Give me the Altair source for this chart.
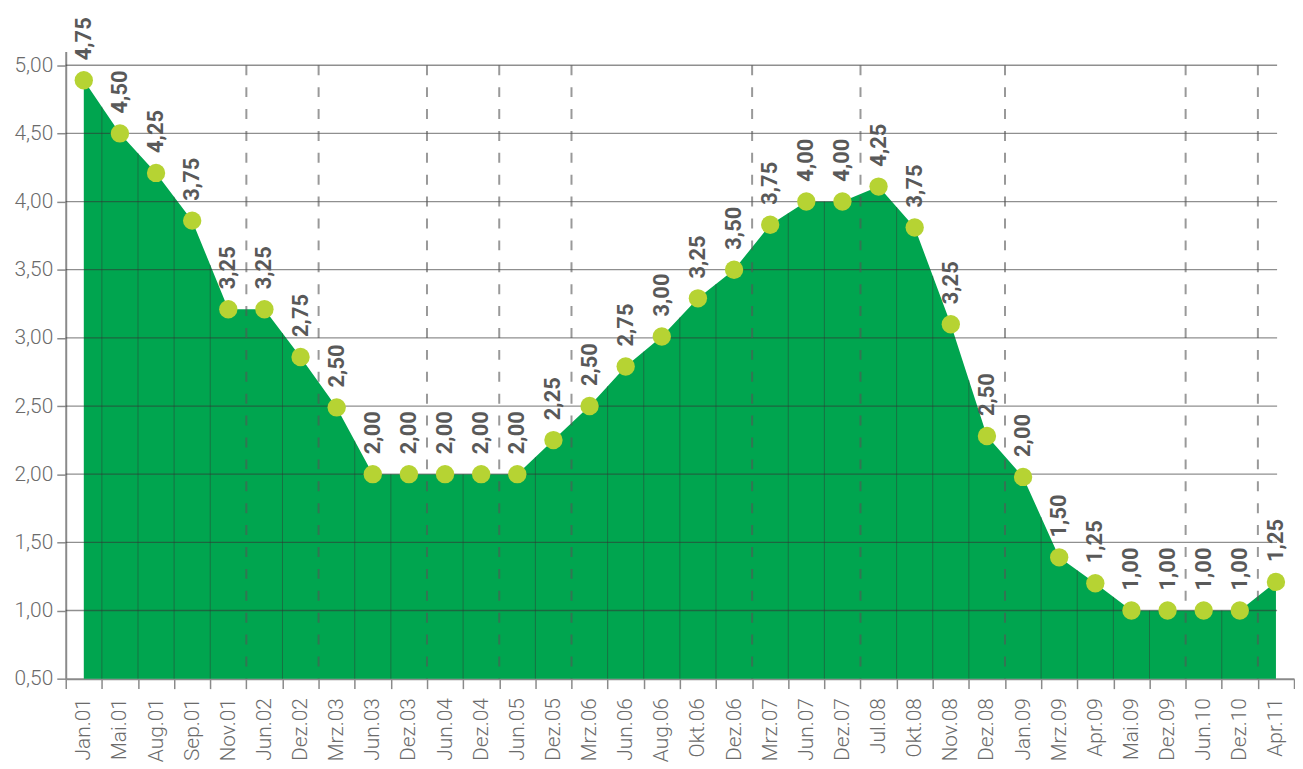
import altair as alt
import pandas as pd

categories = ["Jan.01", "Mai.01", "Aug.01", "Sep.01", "Nov.01", "Jun.02", "Dez.02", "Mrz.03",
              "Jun.03", "Dez.03", "Jun.04", "Dez.04", "Jun.05", "Dez.05", "Mrz.06", "Jun.06",
              "Aug.06", "Okt.06", "Dez.06", "Mrz.07", "Jun.07", "Dez.07", "Jul.08", "Okt.08",
              "Nov.08", "Dez.08", "Jan.09", "Mrz.09", "Apr.09", "Mai.09", "Dez.09", "Jun.10",
              "Dez.10", "Apr.11"]
values = [4.89, 4.50, 4.21, 3.86, 3.21, 3.21, 2.86, 2.49,
          2.00, 2.00, 2.00, 2.00, 2.00, 2.25, 2.50, 2.79,
          3.01, 3.29, 3.50, 3.83, 4.00, 4.00, 4.11, 3.81,
          3.10, 2.28, 1.98, 1.39, 1.20, 1.00, 1.00, 1.00,
          1.00, 1.21]
labels = ["4,75", "4,50", "4,25", "3,75", "3,25", "3,25", "2,75", "2,50",
          "2,00", "2,00", "2,00", "2,00", "2,00", "2,25", "2,50", "2,75",
          "3,00", "3,25", "3,50", "3,75", "4,00", "4,00", "4,25", "3,75",
          "3,25", "2,50", "2,00", "1,50", "1,25", "1,00", "1,00", "1,00",
          "1,00", "1,25"]
y_ticks = [0.5, 1.0, 1.5, 2.0, 2.5, 3.0, 3.5, 4.0, 4.5, 5.0]

GREEN = "#00a54f"
POINT = "#b6d333"
AXIS_GRAY = "#8a8a8a"
LABEL_GRAY = "#6b6b6b"
VALUE_GRAY = "#595959"
FONT = "Roboto"

years = [c.split(".")[1] for c in categories]
df = pd.DataFrame({"cat": categories, "value": values, "label": labels})

year_rows = []
inner_rows = []
for i in range(1, len(categories)):
    if years[i] != years[i - 1]:
        year_rows.append({"cat": categories[i]})
    else:
        inner_rows.append({"cat": categories[i], "top": (values[i - 1] + values[i]) / 2})
df_year = pd.DataFrame(year_rows)
df_inner = pd.DataFrame(inner_rows)
df_grid = pd.DataFrame({"v": y_ticks[1:]})

W = 1234
H = 630

x_scale = alt.Scale(type="band", domain=categories, paddingInner=0, paddingOuter=0)
y_scale = alt.Scale(domain=[0.5, 5.1], nice=False, zero=False)

x_axis = alt.Axis(title=None, tickBand="extent", labelAngle=270, labelAlign="right",
                  labelBaseline="middle", labelFont=FONT, labelFontSize=21, labelFontWeight=300,
                  labelColor=LABEL_GRAY,
                  labelPadding=9, tickSize=10, tickColor=AXIS_GRAY, tickWidth=1.5,
                  domainColor=AXIS_GRAY, domainWidth=2, grid=False)
y_axis = alt.Axis(title=None, values=y_ticks,
                  labelExpr="replace(format(datum.value, '.2f'), '.', ',')",
                  labelFont=FONT, labelFontSize=21, labelFontWeight=300, labelColor=LABEL_GRAY,
                  labelPadding=4,
                  tickSize=9, tickColor=AXIS_GRAY, tickWidth=1.5,
                  domainColor=AXIS_GRAY, domainWidth=2, grid=False)


def X(band_pos):
    return alt.X("cat:N", scale=x_scale, axis=x_axis, bandPosition=band_pos, sort=categories)


area = alt.Chart(df).mark_area(color=GREEN, opacity=1).encode(
    x=X(0.5),
    y=alt.Y("value:Q", scale=y_scale, axis=y_axis),
    y2=alt.datum(0.5),
)

inner = alt.Chart(df_inner).mark_rule(color="#333333", opacity=0.45, strokeWidth=1).encode(
    x=X(0),
    y=alt.Y("top:Q", scale=y_scale, axis=y_axis),
    y2=alt.datum(0.5),
)

grid = alt.Chart(df_grid).mark_rule(color="#333333", opacity=0.55, strokeWidth=1.3).encode(
    y=alt.Y("v:Q", scale=y_scale, axis=y_axis),
    x=alt.value(0),
    x2=alt.value(W - 17),
)

dashed = alt.Chart(df_year).mark_rule(color="#555555", opacity=0.6, strokeWidth=2,
                                      strokeDash=[10, 12]).encode(
    x=X(0),
    y=alt.datum(5.0),
    y2=alt.datum(0.5),
)

points = alt.Chart(df).mark_circle(color=POINT, opacity=1, size=340).encode(
    x=X(0.5),
    y=alt.Y("value:Q", scale=y_scale, axis=y_axis),
)

texts = alt.Chart(df).mark_text(angle=270, align="left", baseline="middle", yOffset=-20,
                                font=FONT, fontSize=22, fontWeight="bold",
                                color=VALUE_GRAY).encode(
    x=X(0.5),
    y=alt.Y("value:Q", scale=y_scale, axis=y_axis),
    text="label:N",
)

chart = alt.layer(area, inner, grid, dashed, points, texts).properties(
    width=W, height=H,
    autosize=alt.AutoSizeParams(type="none"),
    padding={"left": 58, "top": 42, "right": 1, "bottom": 100},
).configure_view(stroke=None)

chart.save("out.html", embed_options={"renderer": "svg", "actions": False})
